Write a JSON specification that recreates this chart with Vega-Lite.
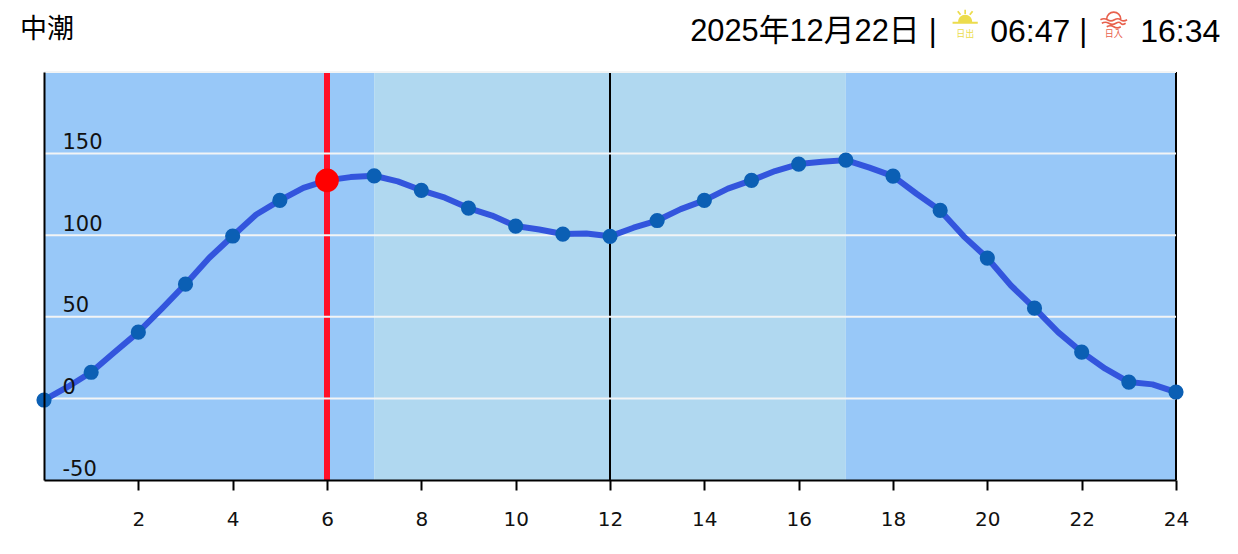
{
"$schema":"https://vega.github.io/schema/vega-lite/v6.json",
"width":1132,"height":408,
"autosize":{"type":"none"},
"padding":{"left":44,"top":72,"right":62,"bottom":74},
"background":"white",
"view":{"stroke":null},
"datasets":{
"bands":[{"start":0,"end":7,"phase":"night"},{"start":7,"end":17,"phase":"day"},{"start":17,"end":24,"phase":"night"}],
"tide":[{"hour":0,"level":-1},{"hour":0.5,"level":7},{"hour":1,"level":16},{"hour":1.5,"level":28.4},{"hour":2,"level":40.6},{"hour":2.5,"level":55},{"hour":3,"level":70},{"hour":3.5,"level":86},{"hour":4,"level":99.5},{"hour":4.5,"level":112.7},{"hour":5,"level":121.3},{"hour":5.5,"level":129},{"hour":6,"level":133.6},{"hour":6.5,"level":135.6},{"hour":7,"level":136.4},{"hour":7.5,"level":133},{"hour":8,"level":127.5},{"hour":8.5,"level":123},{"hour":9,"level":116.6},{"hour":9.5,"level":112},{"hour":10,"level":105.6},{"hour":10.5,"level":103.5},{"hour":11,"level":100.7},{"hour":11.5,"level":101},{"hour":12,"level":99.3},{"hour":12.5,"level":104.6},{"hour":13,"level":109},{"hour":13.5,"level":116},{"hour":14,"level":121.3},{"hour":14.5,"level":128.5},{"hour":15,"level":133.6},{"hour":15.5,"level":139.3},{"hour":16,"level":143.6},{"hour":16.5,"level":145},{"hour":17,"level":146},{"hour":17.5,"level":141.4},{"hour":18,"level":136.2},{"hour":18.5,"level":125.4},{"hour":19,"level":115.2},{"hour":19.5,"level":99.3},{"hour":20,"level":86},{"hour":20.5,"level":69.2},{"hour":21,"level":55.3},{"hour":21.5,"level":40.6},{"hour":22,"level":28.4},{"hour":22.5,"level":18.2},{"hour":23,"level":10},{"hour":23.5,"level":8.6},{"hour":24,"level":3.9}],
"hourly":[{"hour":0,"level":-1},{"hour":1,"level":16},{"hour":2,"level":40.6},{"hour":3,"level":70},{"hour":4,"level":99.5},{"hour":5,"level":121.3},{"hour":7,"level":136.4},{"hour":8,"level":127.5},{"hour":9,"level":116.6},{"hour":10,"level":105.6},{"hour":11,"level":100.7},{"hour":12,"level":99.3},{"hour":13,"level":109},{"hour":14,"level":121.3},{"hour":15,"level":133.6},{"hour":16,"level":143.6},{"hour":17,"level":146},{"hour":18,"level":136.2},{"hour":19,"level":115.2},{"hour":20,"level":86},{"hour":21,"level":55.3},{"hour":22,"level":28.4},{"hour":23,"level":10},{"hour":24,"level":3.9}],
"now":[{"hour":6,"level":133.6}],
"grid":[{"level":0},{"level":50},{"level":100},{"level":150},{"level":200}],
"frames":[{"hour":12},{"hour":24}],
"tideName":[{"label":"中潮","hour":-0.51,"level":226}],
"dateText":[{"label":"2025年12月22日","hour":13.7,"level":224.5},{"label":"|","hour":18.76,"level":224.5},{"label":"|","hour":21.95,"level":224.5}],
"times":[{"label":"06:47","hour":20.06,"level":224.5},{"label":"16:34","hour":23.24,"level":224.5}],
"sunrise":[{"hour":19.53,"level":233,"caption":"日出","captionLevel":223.3}],
"sunset":[{"hour":22.68,"level":232,"caption":"日入","captionLevel":223.3}]
},
"layer":[
{"data":{"name":"bands"},"mark":{"type":"rect"},
"encoding":{
"x":{"field":"start","type":"quantitative","scale":{"domain":[0,24],"nice":false,"zero":false},
"axis":{"values":[2,4,6,8,10,12,14,16,18,20,22,24],"title":null,"grid":false,"domainColor":"black","domainWidth":2,"tickColor":"black","tickWidth":2,"tickSize":10,"labelFontSize":20,"labelFont":"DejaVu Sans","labelColor":"#111111","labelPadding":19,"labelFlush":false,"labelOverlap":false,"zindex":1}},
"x2":{"field":"end"},
"y":{"datum":-50,"type":"quantitative","scale":{"domain":[-50,200],"nice":false,"zero":false},
"axis":{"values":[-50,0,50,100,150],"labelExpr":"toString(datum.value)","title":null,"grid":false,"ticks":false,"domainColor":"black","domainWidth":2,"labelFontSize":21,"labelFont":"DejaVu Sans","labelColor":"#111111","labelAlign":"left","labelBaseline":"bottom","labelPadding":-18,"labelOffset":-1,"labelOverlap":false,"labelFlush":false,"zindex":1}},
"y2":{"datum":200},
"color":{"field":"phase","type":"nominal","scale":{"domain":["night","day"],"range":["#98c8f8","#b0d8f0"]},"legend":null}}},
{"data":{"name":"now"},"mark":{"type":"rule","color":"#ff1028","strokeWidth":6},"encoding":{"x":{"field":"hour","type":"quantitative"}}},
{"data":{"name":"frames"},"mark":{"type":"rule","color":"black","strokeWidth":2},"encoding":{"x":{"field":"hour","type":"quantitative"}}},
{"data":{"name":"grid"},"mark":{"type":"rule","color":"#f2f4f5","strokeWidth":2},"encoding":{"y":{"field":"level","type":"quantitative"}}},
{"data":{"name":"tide"},"mark":{"type":"line","color":"#3355dd","strokeWidth":6,"interpolate":"linear","strokeJoin":"round","clip":false},
"encoding":{"x":{"field":"hour","type":"quantitative"},"y":{"field":"level","type":"quantitative"}}},
{"data":{"name":"hourly"},"mark":{"type":"point","filled":true,"color":"#0b5fb4","opacity":1,"size":230},
"encoding":{"x":{"field":"hour","type":"quantitative"},"y":{"field":"level","type":"quantitative"}}},
{"data":{"name":"now"},"mark":{"type":"point","filled":true,"color":"#ff0000","opacity":1,"size":560},
"encoding":{"x":{"field":"hour","type":"quantitative"},"y":{"field":"level","type":"quantitative"}}},
{"data":{"name":"tideName"},"mark":{"type":"text","align":"left","baseline":"middle","fontSize":27,"font":"Noto Sans CJK JP","color":"black"},
"encoding":{"x":{"field":"hour","type":"quantitative"},"y":{"field":"level","type":"quantitative"},"text":{"field":"label"}}},
{"data":{"name":"dateText"},"mark":{"type":"text","align":"left","baseline":"middle","fontSize":30.8,"font":"Liberation Sans, Noto Sans CJK JP","color":"black"},
"encoding":{"x":{"field":"hour","type":"quantitative"},"y":{"field":"level","type":"quantitative"},"text":{"field":"label"}}},
{"data":{"name":"times"},"mark":{"type":"text","align":"left","baseline":"middle","fontSize":32,"font":"Liberation Sans","color":"black"},
"encoding":{"x":{"field":"hour","type":"quantitative"},"y":{"field":"level","type":"quantitative"},"text":{"field":"label"}}},
{"data":{"name":"sunrise"},"mark":{"type":"point","filled":true,"opacity":1,"color":"#ecdc4c","size":784,"shape":"M-.9 .25H.9V.4H-.9Z M-.5 .25A.5 .5 0 0 1 .5 .25Z M-.06 -.6H.06V-.3H-.06Z M-.58 -.45L-.48 -.52L-.28 -.28L-.38 -.2Z M.58 -.45L.48 -.52L.28 -.28L.38 -.2Z"},"encoding":{"x":{"field":"hour","type":"quantitative"},"y":{"field":"level","type":"quantitative"}}},
{"data":{"name":"sunrise"},"mark":{"type":"text","align":"center","baseline":"middle","fontSize":9,"font":"Noto Sans CJK JP","color":"#ecdc4c"},"encoding":{"x":{"field":"hour","type":"quantitative"},"y":{"field":"captionLevel","type":"quantitative"},"text":{"field":"caption"}}},
{"data":{"name":"sunset"},"mark":{"type":"point","filled":false,"opacity":1,"color":"#e8604c","strokeWidth":1.6,"size":784,"shape":"M-.5 -.05A.5 .5 0 0 1 .5 -.05 M-.95 0Q-.7 -.15 -.45 0T.05 0T.5 0T.95 0 M-.85 .25Q-.6 .1 -.35 .25T.15 .25T.5 .25T.85 .25 M-.5 .5Q-.25 .35 0 .5T.5 .5"},"encoding":{"x":{"field":"hour","type":"quantitative"},"y":{"field":"level","type":"quantitative"}}},
{"data":{"name":"sunset"},"mark":{"type":"text","align":"center","baseline":"middle","fontSize":9,"font":"Noto Sans CJK JP","color":"#e8604c"},"encoding":{"x":{"field":"hour","type":"quantitative"},"y":{"field":"captionLevel","type":"quantitative"},"text":{"field":"caption"}}}
]
}
